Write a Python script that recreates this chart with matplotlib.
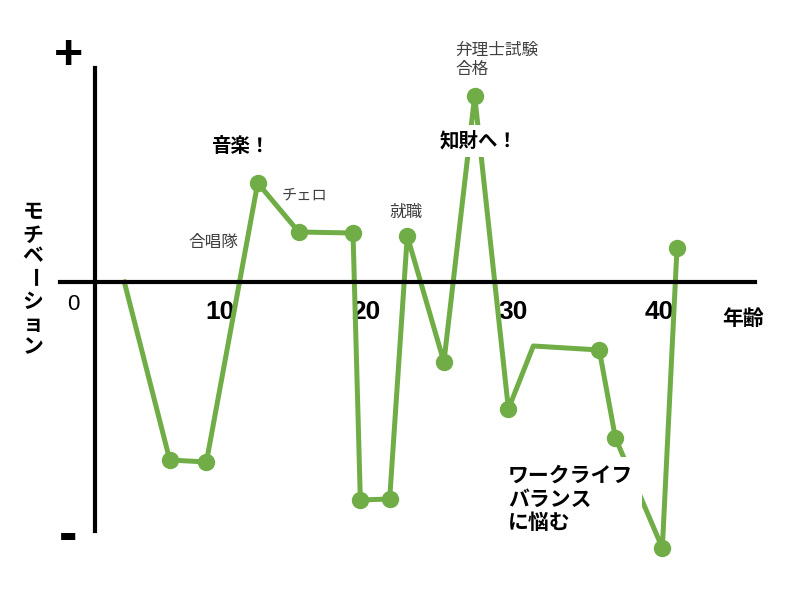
import matplotlib.pyplot as plt

# motivation curve data (age, motivation)
ages = [3.5, 6.6, 9.1, 12.6, 15.4, 19.1, 19.6, 21.6, 22.8, 25.3, 27.4, 29.7, 31.4, 35.9, 37.0, 40.2, 41.2]
motivation = [0, -89, -90, 49.5, 25, 24.5, -109, -108.5, 23, -40, 93, -63.5, -32, -34, -78, -133, 17]
marked = [1, 2, 3, 4, 5, 6, 7, 8, 9, 10, 11, 13, 14, 15, 16]

tick_ages = [0, 10, 20, 30, 40]
tick_labels = ['0', '10', '20', '30', '40']

green = '#70AD47'
gray = '#404040'

plt.rcParams['font.family'] = ['Noto Sans CJK JP', 'DejaVu Sans']

fig = plt.figure(figsize=(8, 5.89), dpi=100)
ax = fig.add_axes([0, 0, 1, 1])
ax.set_xlim(-4.98, 49.59)
ax.set_ylim(-153.5, 141)

# 軸は手書き風にspineで描く
for s in ['top', 'right']:
    ax.spines[s].set_visible(False)
ax.spines['left'].set_position(('data', 1.5))
ax.spines['left'].set_bounds(-124.5, 107)
ax.spines['bottom'].set_position(('data', 0))
ax.spines['bottom'].set_bounds(-0.9, 46.5)
for s in ['left', 'bottom']:
    ax.spines[s].set_linewidth(3)
    ax.spines[s].set_color('black')
ax.set_xticks([])
ax.set_yticks([])

ax.plot(ages, motivation, color=green, lw=3.6, marker='o', markersize=11.5,
        markevery=marked, zorder=2)

# 目盛りラベル
for a, lab in zip(tick_ages, tick_labels):
    if lab == '0':
        ax.text(a, -11.5, lab, ha='center', va='center', fontsize=16,
                family=['Liberation Sans'], zorder=1)
    else:
        ax.text(a, -15, lab, ha='center', va='center', fontsize=19,
                fontweight='bold', family=['Liberation Sans'], zorder=1)

ax.text(45.7, -18, '年齢', ha='center', va='center', fontsize=15, fontweight='bold')
ax.text(-0.34, 113, '+', ha='center', va='center', fontsize=36, fontweight='bold',
        family=['Liberation Sans'])
ax.text(-0.34, -127.5, '-', ha='center', va='center', fontsize=40, fontweight='bold',
        family=['Liberation Sans'])

# 縦書きのラベル
ylab = 'モチベーション'
ys = [212, 235, 256, 277, 301, 323, 347]
for ch, py in zip(ylab, ys):
    ax.text(-2.73, (282 - py) / 2, ch, ha='center', va='center', fontsize=15,
            fontweight='bold', rotation=-90 if ch == 'ー' else 0)

# 注釈
ax.text(11.39, 67.5, '音楽！', ha='center', va='center', fontsize=14, fontweight='bold')
ax.text(15.83, 43.5, 'チェロ', ha='center', va='center', fontsize=11, color=gray)
ax.text(9.55, 19.5, '合唱隊', ha='center', va='center', fontsize=12, color=gray)
ax.text(22.7, 35, '就職', ha='center', va='center', fontsize=12, color=gray)
ax.text(26.06, 120, '弁理士試験\n合格', ha='left', va='top', fontsize=12, color=gray,
        linespacing=1.15)
ax.text(27.69, 70.5, '知財へ！', ha='center', va='center', fontsize=14, fontweight='bold',
        zorder=5, bbox=dict(boxstyle='square,pad=0.3', fc='white', ec='none'))
ax.text(29.67, -91.5, 'ワークライフ\nバランス\nに悩む', ha='left', va='top', fontsize=15,
        fontweight='bold', linespacing=1.15, zorder=5,
        bbox=dict(boxstyle='square,pad=0.4', fc='white', ec='none'))

fig.savefig('out.png', dpi=100)
